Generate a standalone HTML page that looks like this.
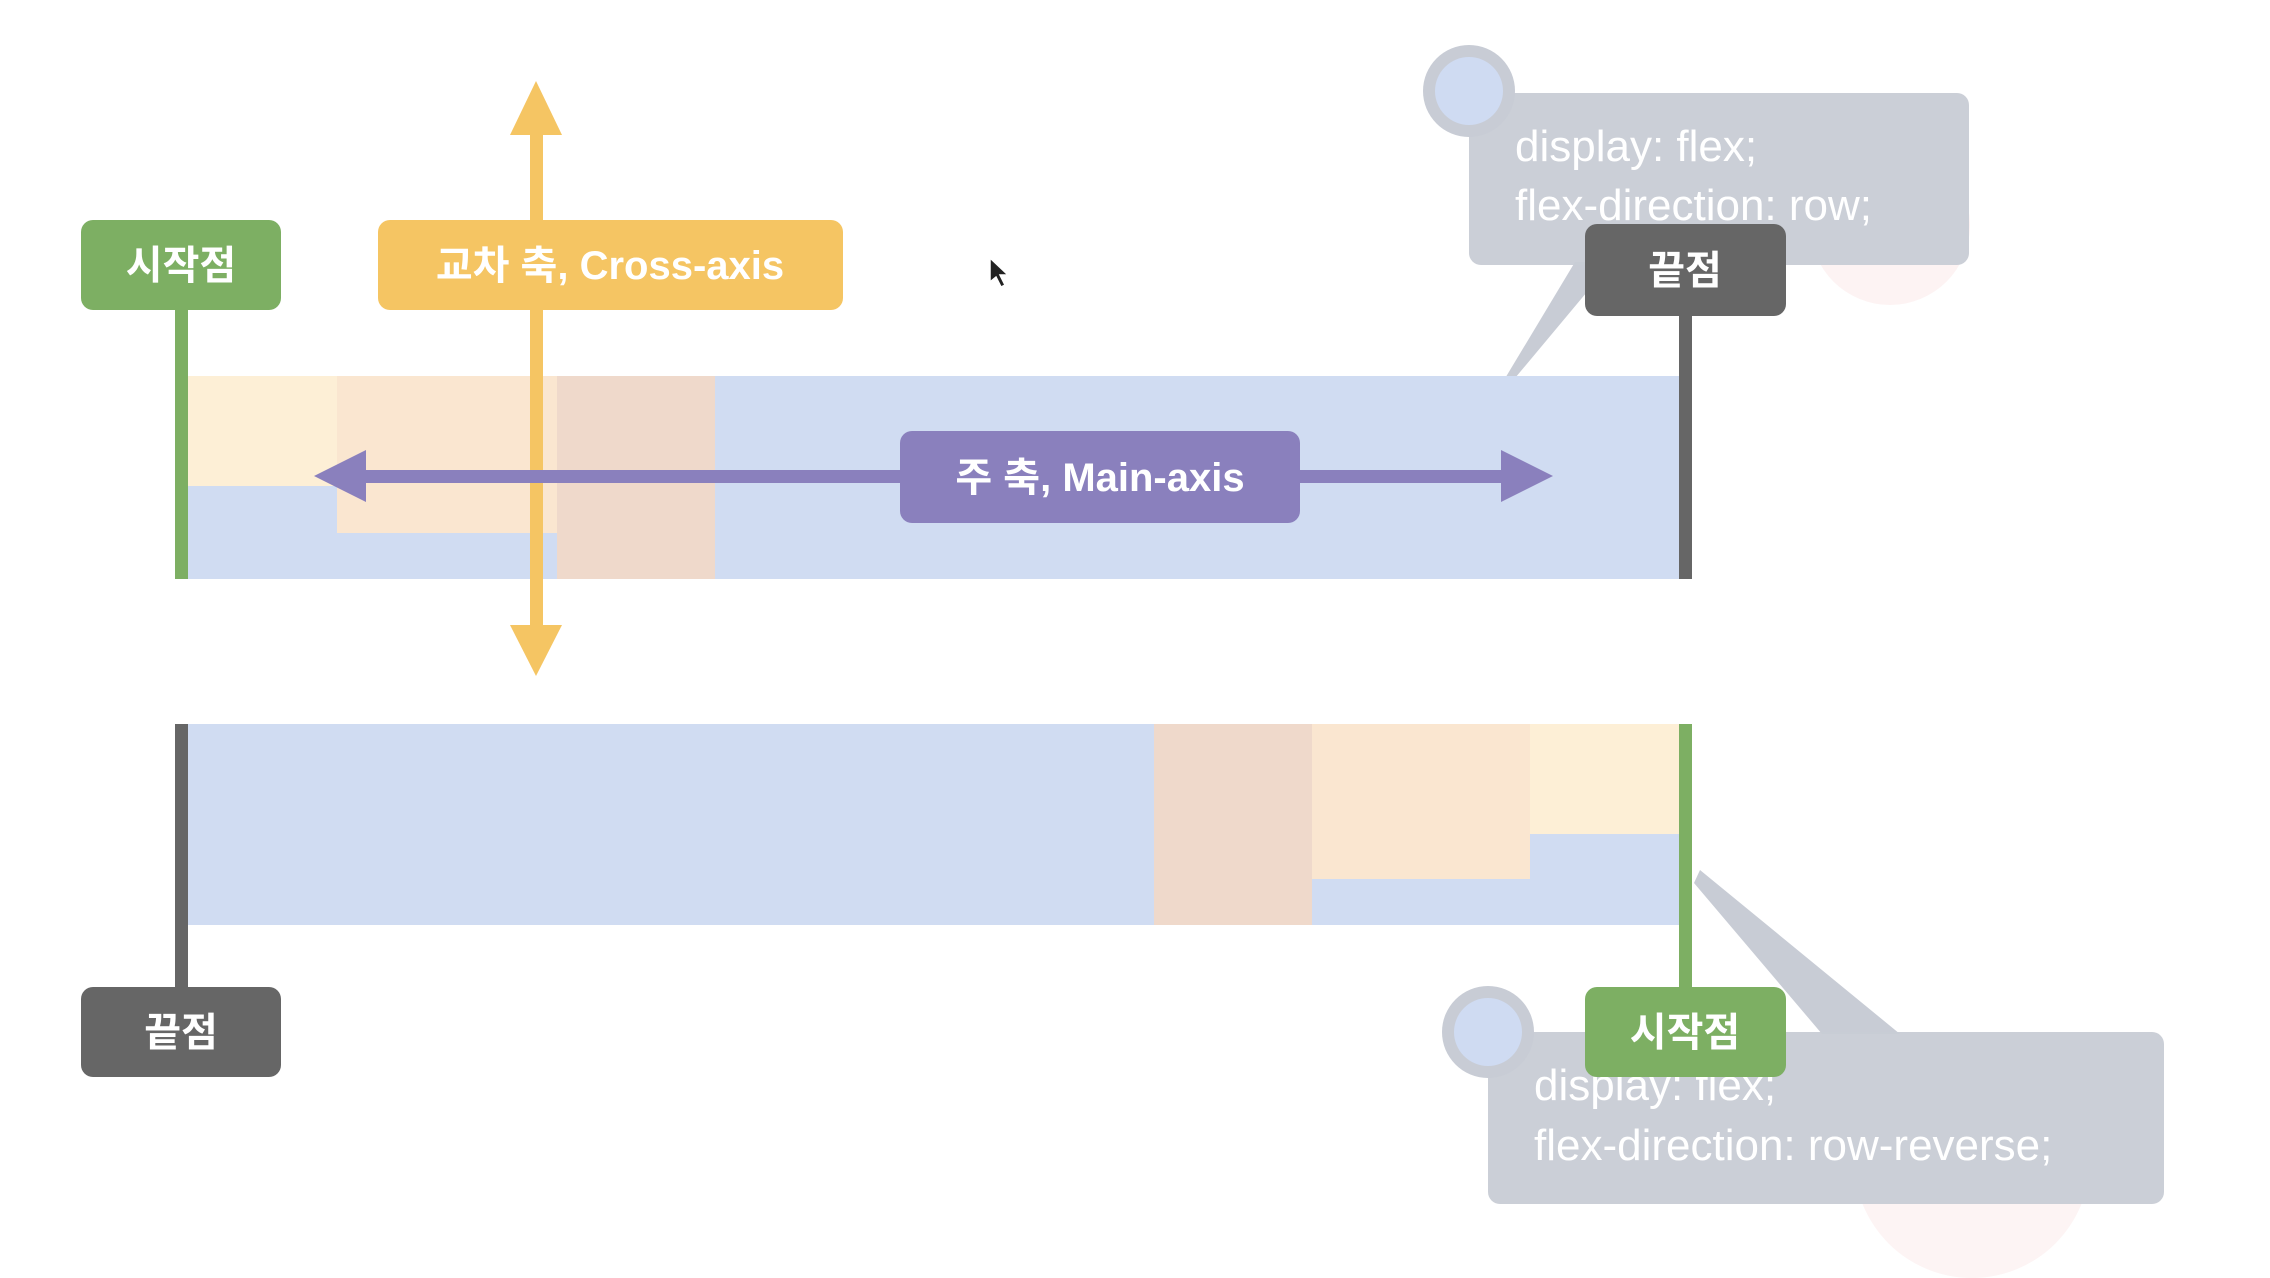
<!DOCTYPE html>
<html><head><meta charset="utf-8"><style>
html,body{margin:0;padding:0;background:#fff;}
svg{display:block}
.lb{font-family:"Liberation Sans","Noto Sans CJK KR",sans-serif;font-weight:bold;fill:#fff;font-size:40px;}
.cd{font-family:"Liberation Sans","Noto Sans CJK KR",sans-serif;fill:#fff;font-size:44px;}
</style></head><body>
<svg width="2270" height="1278" viewBox="0 0 2270 1278" xmlns="http://www.w3.org/2000/svg">
<rect width="2270" height="1278" fill="#fff"/>
<!-- faint pink circles -->
<circle cx="1890" cy="225" r="80" fill="#fdf3f3"/>
<circle cx="1972" cy="1160" r="118" fill="#fdf4f4"/>
<!-- top callout -->
<polygon points="1575,262 1612,262 1480,420" fill="#c8ccd5"/>
<rect x="1469" y="93" width="500" height="172" rx="12" fill="#c8ccd5" opacity="0.95"/>
<circle cx="1469" cy="91" r="46" fill="#c8ccd5"/>
<circle cx="1469" cy="91" r="34" fill="#cfdbf2"/>
<text class="cd" x="1515" y="161">display: flex;</text>
<text class="cd" x="1515" y="220">flex-direction: row;</text>
<!-- top container -->
<rect x="188" y="376" width="1491" height="203" fill="#d0dcf2"/>
<rect x="188" y="376" width="149" height="110" fill="#fdefd6"/>
<rect x="337" y="376" width="220" height="157" fill="#fae6d0"/>
<rect x="557" y="376" width="158" height="203" fill="#efd9cb"/>
<rect x="175" y="300" width="13" height="279" fill="#7daf63"/>
<rect x="1679" y="300" width="13" height="279" fill="#666"/>
<!-- cross axis -->
<rect x="530" y="130" width="13" height="500" fill="#f5c563"/>
<polygon points="536,81 562,135 510,135" fill="#f5c563"/>
<polygon points="536,676 562,625 510,625" fill="#f5c563"/>
<!-- main axis -->
<rect x="360" y="470" width="1145" height="13" fill="#8a80bd"/>
<polygon points="314,476 366,450 366,502" fill="#8a80bd"/>
<polygon points="1553,476 1501,450 1501,502" fill="#8a80bd"/>
<!-- labels top -->
<rect x="81" y="220" width="200" height="90" rx="12" fill="#7daf63"/>
<text class="lb" x="181" y="279" text-anchor="middle">시작점</text>
<rect x="378" y="220" width="465" height="90" rx="12" fill="#f5c563"/>
<text class="lb" x="610" y="279" text-anchor="middle">교차 축, Cross-axis</text>
<rect x="900" y="431" width="400" height="92" rx="12" fill="#8a80bd"/>
<text class="lb" x="1100" y="491" text-anchor="middle">주 축, Main-axis</text>
<rect x="1585" y="224" width="201" height="92" rx="12" fill="#666"/>
<text class="lb" x="1685" y="284" text-anchor="middle">끝점</text>
<!-- cursor -->
<polygon points="990,258 990,282 996,277 1001,287 1005,285 1000,275 1008,275" fill="#222" stroke="#fff" stroke-width="1.5"/>
<!-- bottom container -->
<rect x="188" y="724" width="1491" height="201" fill="#d0dcf2"/>
<rect x="1154" y="724" width="158" height="201" fill="#efd9cb"/>
<rect x="1312" y="724" width="218" height="155" fill="#fae6d0"/>
<rect x="1530" y="724" width="149" height="110" fill="#fdefd6"/>
<rect x="175" y="724" width="13" height="270" fill="#666"/>
<!-- bottom callout -->
<polygon points="1694,883 1700,870 1900,1034 1822,1034" fill="#c8ccd5"/>
<rect x="1488" y="1032" width="676" height="172" rx="12" fill="#c8ccd5" opacity="0.95"/>
<circle cx="1488" cy="1032" r="46" fill="#c8ccd5"/>
<circle cx="1488" cy="1032" r="34" fill="#cfdbf2"/>
<rect x="1679" y="724" width="13" height="270" fill="#7daf63"/>
<text class="cd" x="1534" y="1100">display: flex;</text>
<text class="cd" x="1534" y="1160">flex-direction: row-reverse;</text>
<rect x="1585" y="987" width="201" height="90" rx="12" fill="#7daf63"/>
<text class="lb" x="1685" y="1046" text-anchor="middle">시작점</text>
<rect x="81" y="987" width="200" height="90" rx="12" fill="#666"/>
<text class="lb" x="181" y="1046" text-anchor="middle">끝점</text>
</svg>
</body></html>
